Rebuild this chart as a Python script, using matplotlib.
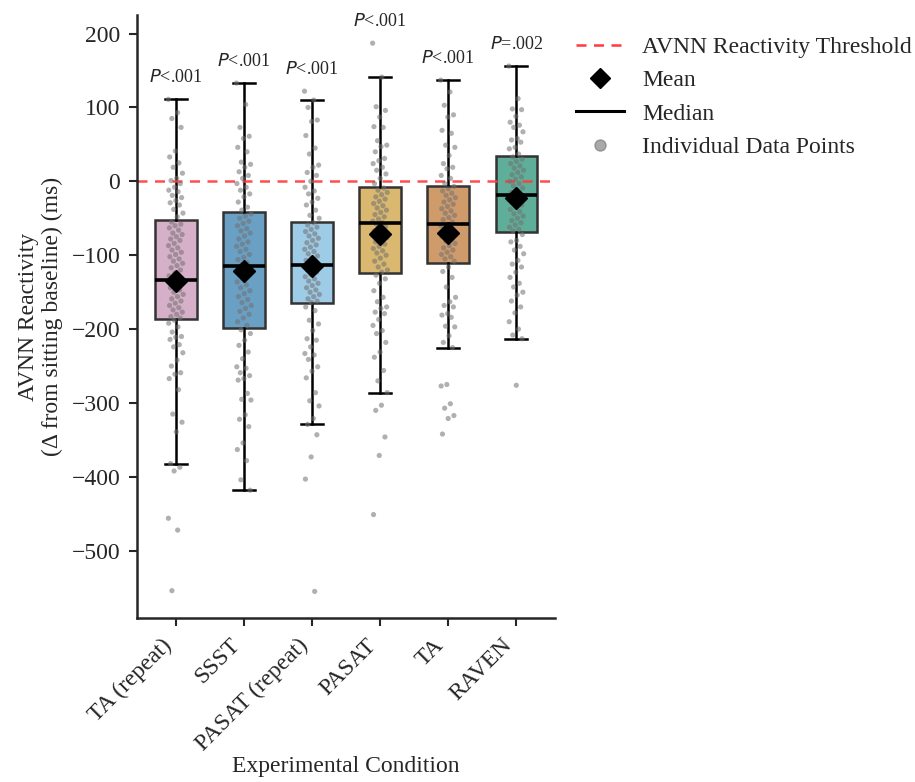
import matplotlib
matplotlib.use('Agg')
import matplotlib.pyplot as plt
from matplotlib.lines import Line2D
import numpy as np

plt.rcParams['font.family'] = ['Liberation Serif', 'DejaVu Serif']
plt.rcParams['font.size'] = 17
plt.rcParams['text.color'] = '#262626'
plt.rcParams['axes.labelcolor'] = '#262626'
plt.rcParams['xtick.color'] = '#262626'
plt.rcParams['ytick.color'] = '#262626'

conditions = ['TA (repeat)', 'SSST', 'PASAT (repeat)', 'PASAT', 'TA', 'RAVEN']
box_colors = ['#d6b0c9', '#6aa0c4', '#9ecbe6', '#dab86f', '#d09b6b', '#5fae99']
p_labels = ['<.001', '<.001', '<.001', '<.001', '<.001', '=.002']

# box statistics (ms)
q1 = [-186, -198, -165, -124, -110, -68]
medians = [-133, -115, -113, -56, -58, -18]
q3 = [-52, -42, -55, -8, -6, 34]
whis_lo = [-382, -418, -329, -286, -225, -213]
whis_hi = [111, 133, 110, 141, 137, 156]
means = [-135, -121, -115, -71, -70, -23]

# individual points
ta_repeat_pts = [111, 93, 85, 73, 41, 33, 25, 19, 11, 4, 1, -3, -8, -12, -14, -19, -22, -26, -29, -32, -38, -43, -48,
                 -55, -58, -60, -63, -66, -70, -72, -75, -78, -80, -84, -87, -90, -93, -96, -99, -102, -105, -108,
                 -111, -114, -117, -120, -124, -128, -131, -133, -136, -140, -144, -147, -150, -153, -156, -159,
                 -162, -165, -168, -171, -174, -177, -180, -183, -185,
                 -188, -192, -197, -204, -210, -211, -214, -221, -224, -232, -242, -250, -259, -261, -267, -282,
                 -315, -326, -339, -382, -387, -392, -456, -472, -554]
ssst_pts = [133, 104, 73, 61, 58, 46, 40, 26, 23, 19, 13, 8, 4, -3, -8, -12, -17, -21, -28, -35, -39,
            -44, -47, -50, -54, -57, -60, -64, -67, -70, -74, -78, -82, -85, -88, -92, -95, -99, -103, -106, -110,
            -113, -116, -120, -124, -128, -132, -136, -140, -144, -148, -152, -156, -160, -164, -168, -172, -176,
            -180, -185, -190, -195,
            -201, -206, -215, -222, -231, -240, -251, -253, -259, -263, -267, -269, -287, -295, -296, -316, -322,
            -332, -354, -363, -378, -404, -418]
pasat_repeat_pts = [122, 110, 100, 83, 81, 62, 45, 37, 22, 19, 12, 8, 0, -8, -13, -17, -23, -28, -32, -39, -46, -50,
                    -56, -59, -62, -65, -68, -71, -74, -77, -80, -83, -86, -89, -92, -95, -98, -101, -104, -107,
                    -110, -112, -114, -117, -120, -123, -126, -129, -132, -135, -138, -141, -144, -147, -150, -153,
                    -156, -159, -162, -164,
                    -170, -175, -188, -193, -202, -213, -215, -224, -233, -235, -241, -251, -257, -266, -286, -297,
                    -304, -321, -329, -343, -373, -403, -555]
pasat_pts = [187, 141, 101, 96, 87, 74, 73, 55, 49, 47, 40, 31, 28, 24, 19, 15, 10, 4, -3,
             -9, -12, -15, -18, -21, -24, -27, -30, -33, -36, -39, -42, -45, -48, -51, -54, -56, -58, -61, -64,
             -67, -70, -73, -76, -79, -82, -85, -88, -91, -94, -97, -100, -104, -108, -112, -116, -120, -123,
             -127, -132, -138, -148, -157, -163, -170, -172, -177, -179, -187, -195, -202, -206, -218, -231, -238,
             -256, -270, -286, -303, -310, -346, -371, -451]
ta_pts = [137, 121, 103, 90, 87, 69, 65, 49, 46, 35, 24, 19, 17, 8, 4, -3,
          -7, -10, -13, -16, -19, -22, -25, -28, -31, -34, -37, -40, -43, -46, -49, -52, -55, -58, -60, -63, -66,
          -69, -72, -75, -78, -81, -84, -87, -90, -93, -96, -99, -102, -105, -108,
          -116, -122, -130, -143, -157, -163, -168, -170, -179, -181, -184, -196, -197, -209, -218, -225,
          -275, -277, -301, -307, -317, -321, -342]
raven_pts = [156, 112, 98, 97, 88, 80, 76, 73, 67, 58, 56, 53, 46, 44, 37,
             33, 30, 27, 24, 21, 18, 15, 12, 9, 6, 3, 0, -3, -6, -9, -12, -15, -18, -20, -23, -26, -29, -32, -35,
             -38, -41, -44, -47, -50, -53, -56, -59, -62, -65, -67,
             -72, -80, -82, -88, -93, -98, -107, -112, -116, -123, -130, -138, -143, -150, -154, -162, -170, -178,
             -190, -200, -208, -213, -276]
points = [ta_repeat_pts, ssst_pts, pasat_repeat_pts, pasat_pts, ta_pts, raven_pts]

fig = plt.figure(figsize=(9.15, 7.82), dpi=100)
ax = fig.add_axes([0.1497, 0.2097, 0.457, 0.771])

stats = []
for i in range(len(conditions)):
    stats.append(dict(med=medians[i], q1=q1[i], q3=q3[i], whislo=whis_lo[i], whishi=whis_hi[i], fliers=[]))

pos = np.arange(len(conditions))
bp = ax.bxp(stats, positions=pos, widths=0.61, patch_artist=True, showfliers=False, capwidths=0.32)
for patch, c in zip(bp['boxes'], box_colors):
    patch.set_facecolor(c)
    patch.set_edgecolor('#333333')
    patch.set_linewidth(1.8)
    patch.set_zorder(1)
for ln in bp['whiskers'] + bp['caps']:
    ln.set_color('black')
    ln.set_linewidth(1.8)
    ln.set_zorder(1.5)
for ln in bp['medians']:
    ln.set_color('black')
    ln.set_linewidth(2.6)
    ln.set_zorder(4)

ax.axhline(0, color='#ff3b3b', ls='--', lw=1.8, dashes=(4, 3), alpha=0.9, zorder=2)

for i, vals in enumerate(points):
    n = len(vals)
    jit = ((np.arange(n) * 0.618034) % 1 - 0.5) * 0.22
    ax.scatter(i + jit, vals, s=14, color='#707070', alpha=0.55, edgecolors='none', zorder=3)
    ax.text(i, max(vals) + 18, r'$\it{P}$' + p_labels[i], ha='center', va='bottom', fontsize=13)

ax.plot(pos, means, 'D', color='black', ms=11, zorder=5)

ax.set_xlim(-0.57, 5.57)
ax.set_ylim(-591, 225)
ax.set_yticks(range(-500, 201, 100))
ax.set_xticks(pos)
ax.set_xticklabels(conditions, rotation=45, ha='right')
ax.spines['top'].set_visible(False)
ax.spines['right'].set_visible(False)
ax.spines['left'].set_linewidth(1.8)
ax.spines['bottom'].set_linewidth(1.8)
ax.spines['left'].set_color('#262626')
ax.spines['bottom'].set_color('#262626')
ax.tick_params(length=6, width=1.5, pad=6)
ax.set_xlabel('Experimental Condition', labelpad=1)
ax.set_ylabel('AVNN Reactivity\n(Δ from sitting baseline) (ms)', labelpad=6)

handles = [Line2D([], [], color='#ff3b3b', ls='--', lw=1.8, dashes=(4, 3)),
           Line2D([], [], marker='D', color='black', ls='none', ms=10),
           Line2D([], [], color='black', lw=2.2),
           Line2D([], [], marker='o', color='#707070', alpha=0.6, ls='none', ms=8)]
labels = ['AVNN Reactivity Threshold', 'Mean', 'Median', 'Individual Data Points']
ax.legend(handles, labels, loc='upper left', bbox_to_anchor=(1.0, 1.0), frameon=False)

fig.savefig('out.png', dpi=100)
